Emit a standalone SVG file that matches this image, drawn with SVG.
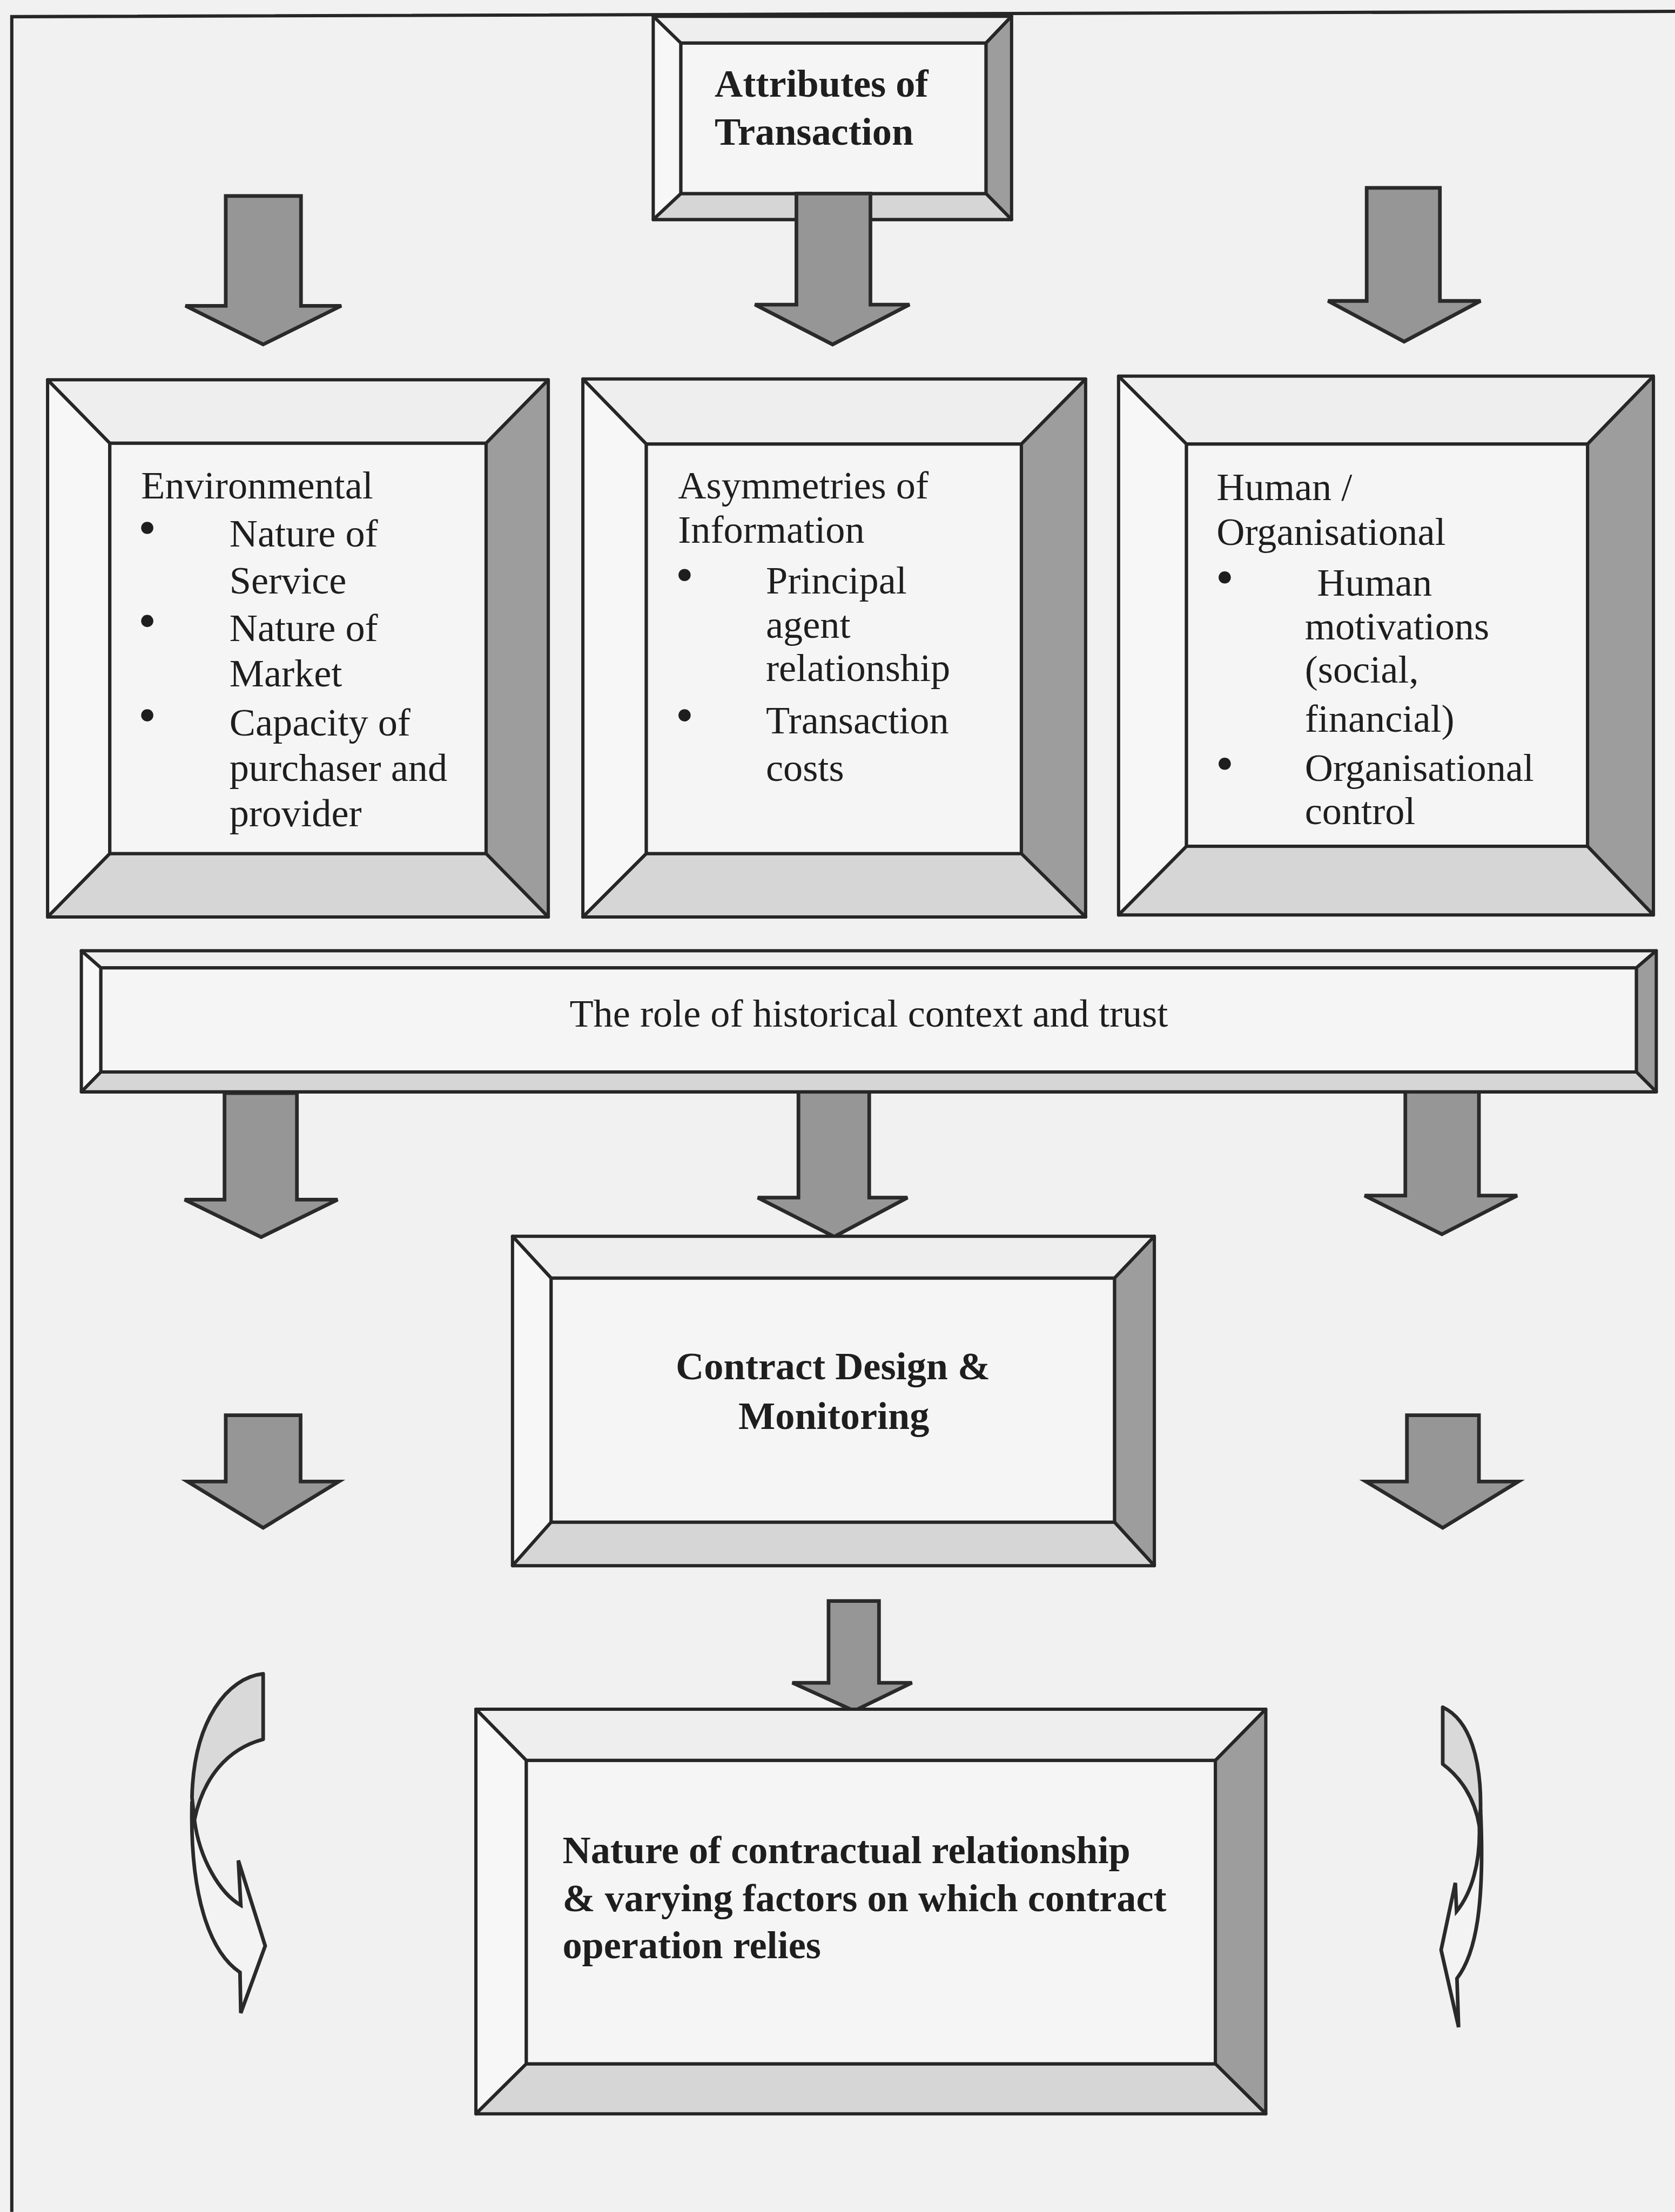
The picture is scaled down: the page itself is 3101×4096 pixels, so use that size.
<svg xmlns="http://www.w3.org/2000/svg" width="3101" height="4096" viewBox="0 0 3101 4096">
<style>
.bg{fill:#f1f1f1}
.ln{stroke:#262626;stroke-width:8;stroke-linejoin:miter;fill:none}
.bt{fill:#eeeeee;stroke:#262626;stroke-width:8;stroke-linejoin:round}
.bl{fill:#f7f7f7;stroke:#262626;stroke-width:8;stroke-linejoin:round}
.br{fill:#9d9d9d;stroke:#262626;stroke-width:8;stroke-linejoin:round}
.bb{fill:#d6d6d6;stroke:#262626;stroke-width:8;stroke-linejoin:round}
.bi{fill:#f5f5f5;stroke:#262626;stroke-width:8}
.arr{fill:#969696;stroke:#2a2a2a;stroke-width:9;stroke-linejoin:miter}
.cg{fill:#d9d9d9;stroke:#2a2a2a;stroke-width:9;stroke-linejoin:round}
.cw{fill:#f3f3f3;stroke:#2a2a2a;stroke-width:9;stroke-linejoin:miter}
.tx{font-family:"Liberation Serif","Times New Roman",serif;font-size:96px;fill:#1e1e1e}
.bd{font-weight:bold}
.mid{text-anchor:middle}
.dot{fill:#1e1e1e}
</style>
<rect class="bg" x="0" y="0" width="3101" height="4096"/>
<g transform="scale(0.75303)">
<path id="frame" class="ln" d="M29,5439 L29,41 L4118,28"/>

<g id="connectors">
<polygon class="arr" points="555,482 740,482 740,752 839,752 647,847 456,752 555,752"/>
<polygon class="arr" points="3360,462 3540,462 3540,740 3640,740 3452,840 3265,740 3360,740"/>
<polygon class="arr" points="552,2688 730,2688 730,2950 830,2950 642,3042 454,2950 552,2950"/>
<polygon class="arr" points="1963,2684 2137,2684 2137,2945 2231,2945 2051,3041 1863,2945 1963,2945"/>
<polygon class="arr" points="3455,2680 3636,2680 3636,2940 3730,2940 3545,3035 3355,2940 3455,2940"/>
<polygon class="arr" points="555,3480 739,3480 739,3643 833,3643 647,3757 461,3643 555,3643"/>
<polygon class="arr" points="3459,3480 3636,3480 3636,3643 3733,3643 3547,3757 3358,3643 3459,3643"/>
<polygon class="arr" points="2037,3937 2161,3937 2161,4138 2242,4138 2100,4207 1948,4138 2037,4138"/>
<g id="curve-left">
<path class="cg" d="M647,4116 C560,4125 476,4230 472,4420 L478,4475 C500,4370 560,4300 647,4277 Z"/>
<path class="cw" d="M472,4430 C466,4660 515,4800 590,4850 L592,4950 L652,4785 L586,4575 L592,4685 C540,4655 490,4570 478,4475 Z"/>
</g>
<g id="curve-right">
<path class="cg" d="M3547,4198 L3547,4338 C3590,4370 3625,4420 3637,4490 L3640,4450 C3642,4330 3615,4230 3547,4198 Z"/>
<path class="cw" d="M3640,4450 C3650,4670 3632,4800 3582,4865 L3586,4985 L3543,4795 L3578,4630 L3581,4700 C3618,4655 3640,4580 3637,4490 Z"/>
</g>
</g>

<g id="node-attributes">
<polygon class="bt" points="1606,40 2487,40 2424,106 1674,106"/>
<polygon class="bl" points="1606,40 1674,106 1674,476 1606,540"/>
<polygon class="br" points="2487,40 2487,540 2424,476 2424,106"/>
<polygon class="bb" points="1674,476 2424,476 2487,540 1606,540"/>
<rect class="bi" x="1674" y="106" width="750" height="370"/>
<text class="tx bd" x="1757" y="238">Attributes of</text>
<text class="tx bd" x="1757" y="356">Transaction</text>
</g>
<polygon class="arr" points="1958,476 2140,476 2140,749 2236,749 2047,847 1856,749 1958,749"/>

<g id="node-environmental">
<polygon class="bt" points="117,934 1348,934 1195,1090 270,1090"/>
<polygon class="bl" points="117,934 270,1090 270,2099 117,2255"/>
<polygon class="br" points="1348,934 1348,2255 1195,2099 1195,1090"/>
<polygon class="bb" points="270,2099 1195,2099 1348,2255 117,2255"/>
<rect class="bi" x="270" y="1090" width="925" height="1009"/>
<text class="tx" x="347" y="1226">Environmental</text>
<circle class="dot" cx="362" cy="1298" r="15"/>
<text class="tx" x="564" y="1344">Nature of</text>
<text class="tx" x="564" y="1459">Service</text>
<circle class="dot" cx="362" cy="1527" r="15"/>
<text class="tx" x="564" y="1576">Nature of</text>
<text class="tx" x="564" y="1688">Market</text>
<circle class="dot" cx="362" cy="1759" r="15"/>
<text class="tx" x="564" y="1809">Capacity of</text>
<text class="tx" x="564" y="1920">purchaser and</text>
<text class="tx" x="564" y="2032">provider</text>
</g>

<g id="node-asymmetries">
<polygon class="bt" points="1433,932 2669,932 2511,1092 1589,1092"/>
<polygon class="bl" points="1433,932 1589,1092 1589,2099 1433,2255"/>
<polygon class="br" points="2669,932 2669,2255 2511,2099 2511,1092"/>
<polygon class="bb" points="1589,2099 2511,2099 2669,2255 1433,2255"/>
<rect class="bi" x="1589" y="1092" width="922" height="1007"/>
<text class="tx" x="1667" y="1226">Asymmetries of</text>
<text class="tx" x="1667" y="1335">Information</text>
<circle class="dot" cx="1683" cy="1414" r="15"/>
<text class="tx" x="1883" y="1460">Principal</text>
<text class="tx" x="1883" y="1568">agent</text>
<text class="tx" x="1883" y="1675">relationship</text>
<circle class="dot" cx="1683" cy="1759" r="15"/>
<text class="tx" x="1883" y="1804">Transaction</text>
<text class="tx" x="1883" y="1920">costs</text>
</g>

<g id="node-human">
<polygon class="bt" points="2750,925 4065,925 3903,1092 2917,1092"/>
<polygon class="bl" points="2750,925 2917,1092 2917,2081 2750,2250"/>
<polygon class="br" points="4065,925 4065,2250 3903,2081 3903,1092"/>
<polygon class="bb" points="2917,2081 3903,2081 4065,2250 2750,2250"/>
<rect class="bi" x="2917" y="1092" width="986" height="989"/>
<text class="tx" x="2991" y="1230">Human /</text>
<text class="tx" x="2991" y="1340">Organisational</text>
<circle class="dot" cx="3011" cy="1420" r="15"/>
<text class="tx" x="3238" y="1465">Human</text>
<text class="tx" x="3208" y="1572">motivations</text>
<text class="tx" x="3208" y="1679">(social,</text>
<text class="tx" x="3208" y="1800">financial)</text>
<circle class="dot" cx="3011" cy="1878" r="15"/>
<text class="tx" x="3208" y="1920">Organisational</text>
<text class="tx" x="3208" y="2027">control</text>
</g>

<g id="node-history">
<polygon class="bt" points="200,2338 4072,2338 4023,2380 248,2380"/>
<polygon class="bl" points="200,2338 248,2380 248,2636 200,2685"/>
<polygon class="br" points="4072,2338 4072,2685 4023,2636 4023,2380"/>
<polygon class="bb" points="248,2636 4023,2636 4072,2685 200,2685"/>
<rect class="bi" x="248" y="2380" width="3775" height="256"/>
<text class="tx mid" x="2136" y="2525">The role of historical context and trust</text>
</g>

<g id="node-contract">
<polygon class="bt" points="1260,3040 2838,3040 2740,3143 1355,3143"/>
<polygon class="bl" points="1260,3040 1355,3143 1355,3743 1260,3850"/>
<polygon class="br" points="2838,3040 2838,3850 2740,3743 2740,3143"/>
<polygon class="bb" points="1355,3743 2740,3743 2838,3850 1260,3850"/>
<rect class="bi" x="1355" y="3143" width="1385" height="600"/>
<text class="tx bd mid" x="2048" y="3392">Contract Design &amp;</text>
<text class="tx bd mid" x="2050" y="3514">Monitoring</text>
</g>

<g id="node-nature">
<polygon class="bt" points="1170,4203 3112,4203 2988,4329 1294,4329"/>
<polygon class="bl" points="1170,4203 1294,4329 1294,5075 1170,5198"/>
<polygon class="br" points="3112,4203 3112,5198 2988,5075 2988,4329"/>
<polygon class="bb" points="1294,5075 2988,5075 3112,5198 1170,5198"/>
<rect class="bi" x="1294" y="4329" width="1694" height="746"/>
<text class="tx bd" x="1383" y="4582">Nature of contractual relationship</text>
<text class="tx bd" x="1383" y="4700">&amp; varying factors on which contract</text>
<text class="tx bd" x="1383" y="4815">operation relies</text>
</g>
</g>
</svg>
